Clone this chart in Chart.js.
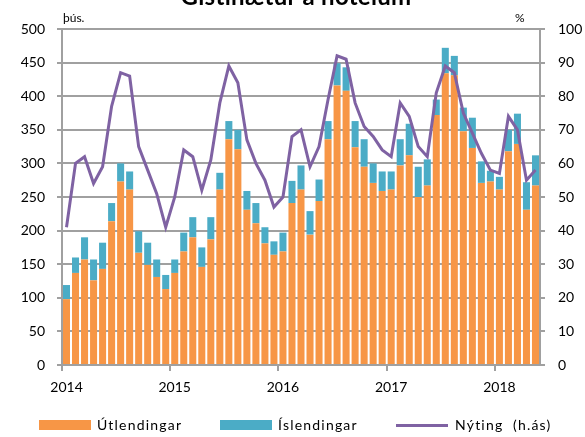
<!DOCTYPE html>
<html>
<head>
<meta charset="utf-8">
<script src="https://cdn.jsdelivr.net/npm/chart.js@4.4.0/dist/chart.umd.min.js"></script>
<style>
  html, body { margin: 0; padding: 0; background: #fff; }
  body { width: 585px; height: 437px; overflow: hidden; position: relative; font-family: Lato, sans-serif; color: #000; }
  #wrap { position: absolute; left: 0; top: 0; width: 585px; height: 437px; }
  .txt { position: absolute; white-space: nowrap; }
  #title { left: 0; width: 592px; text-align: center; top: -16px; font-size: 24px; line-height: 24px; font-weight: bold; letter-spacing: 0.3px; }
  .unit { top: 10px; font-size: 12px; }
  .leg { position: absolute; top: 418px; font-size: 14px; letter-spacing: 1.2px; line-height: 14px; }
  .box { position: absolute; height: 10px; width: 52px; top: 420px; }
</style>
</head>
<body>
<div id="wrap"><canvas id="chart" width="585" height="437"></canvas></div>
<div id="title" class="txt">Gistinætur á hótelum</div>
<div class="txt unit" style="left:63px">þús.</div>
<div class="txt unit" style="left:515px">%</div>

<div class="box" style="left:39px; background:#F79646"></div>
<div class="leg" style="left:97px">Útlendingar</div>
<div class="box" style="left:220px; background:#4BACC6"></div>
<div class="leg" style="left:278px">Íslendingar</div>
<div class="box" style="left:396px; top:424px; height:3px; background:#7F62A3"></div>
<div class="leg" style="left:455px">Nýting&nbsp; (h.ás)</div>

<script>
// monthly, Jan 2014 - May 2018
const years = ['2014', '2015', '2016', '2017', '2018'];
const monthCount = 53;

// thousands of nights
const utlendingar = [
    98, 137, 157, 126, 143, 214, 273, 261, 167, 149, 131, 113,
    137, 169, 190, 146, 187, 261, 336, 321, 231, 211, 181, 164,
    169, 241, 261, 194, 244, 336, 416, 408, 324, 295, 271, 259,
    261, 297, 312, 250, 267, 372, 434, 431, 348, 323, 271, 273,
    261, 318, 329, 231, 267
];
const islendingar = [
    21, 23, 33, 31, 39, 27, 27, 27, 32, 33, 26, 21,
    20, 28, 30, 29, 33, 25, 27, 29, 28, 30, 24, 20,
    28, 33, 36, 35, 32, 27, 33, 35, 39, 41, 29, 29,
    27, 39, 47, 45, 39, 23, 38, 29, 35, 45, 32, 16,
    19, 32, 45, 41, 45
];
// occupancy %, right axis
const nyting = [
    41, 60, 62, 54, 59, 77, 87, 86, 65, 58, 51, 41,
    50, 64, 62, 52, 61, 78, 89, 84, 67, 60, 55, 47,
    50, 68, 70, 59, 65, 79, 92, 91, 78, 71, 68, 64,
    62, 78, 74, 65, 62, 81, 89, 87, 75, 69, 63, 58,
    57, 74, 70, 55, 58
];

const labels = [];
for (let i = 0; i < monthCount; i++) {
    labels.push(i % 12 === 0 ? years[i / 12] : '');
}

const gridGray = '#a0a0a0';
const tickFont = { family: 'Lato', size: 14 };

new Chart(document.getElementById('chart'), {
    type: 'bar',
    data: {
        labels: labels,
        datasets: [
            {
                type: 'line',
                label: 'Nýting (h.ás)',
                data: nyting,
                yAxisID: 'y2',
                borderColor: '#7F62A3',
                borderWidth: 3,
                pointRadius: 0,
                tension: 0,
                order: 0
            },
            {
                label: 'Útlendingar',
                data: utlendingar,
                backgroundColor: '#F79646',
                stack: 's',
                barPercentage: 0.78,
                categoryPercentage: 1,
                order: 1
            },
            {
                label: 'Íslendingar',
                data: islendingar,
                backgroundColor: '#4BACC6',
                stack: 's',
                barPercentage: 0.78,
                categoryPercentage: 1,
                order: 1
            }
        ]
    },
    options: {
        responsive: false,
        animation: false,
        layout: { padding: { top: 29, bottom: 38, left: 0, right: 0 } },
        plugins: {
            legend: { display: false },
            title: { display: false },
            tooltip: { enabled: false }
        },
        scales: {
            x: {
                stacked: true,
                offset: true,
                afterFit: s => { s.height = 34; },
                grid: {
                    offset: true,
                    drawOnChartArea: false,
                    tickLength: 6,
                    lineWidth: 2,
                    color: ctx => (ctx.index % 12 === 0 ? gridGray : 'rgba(0,0,0,0)')
                },
                border: { display: true, color: gridGray, width: 2 },
                ticks: {
                    autoSkip: false,
                    maxRotation: 0,
                    padding: 8,
                    color: '#000',
                    font: tickFont
                }
            },
            y: {
                position: 'left',
                stacked: true,
                min: 0,
                max: 500,
                afterFit: s => { s.width = 62; },
                grid: { color: gridGray, lineWidth: 2, tickLength: 5 },
                border: { display: true, color: gridGray, width: 2 },
                ticks: { stepSize: 50, padding: 12, color: '#000', font: tickFont }
            },
            y2: {
                position: 'right',
                min: 0,
                max: 100,
                afterFit: s => { s.width = 45; },
                grid: { drawOnChartArea: false, color: gridGray, lineWidth: 2, tickLength: 5 },
                border: { display: true, color: gridGray, width: 2 },
                ticks: { stepSize: 10, padding: 13, color: '#000', font: tickFont }
            }
        }
    }
});
</script>
</body>
</html>
